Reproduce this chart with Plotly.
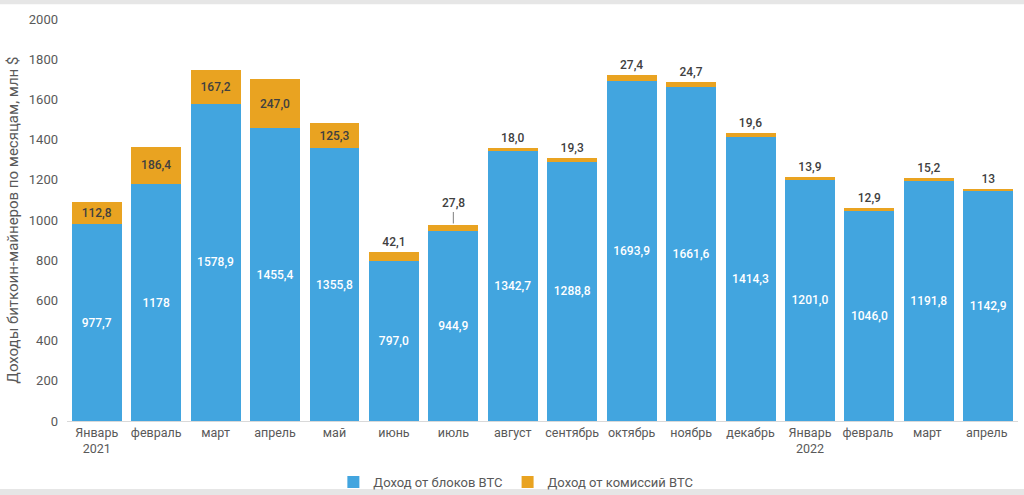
import plotly.graph_objects as go

months = ["Январь<br>2021", "февраль", "март", "апрель", "май", "июнь", "июль", "август",
          "сентябрь", "октябрь", "ноябрь", "декабрь", "Январь<br>2022", "февраль ", "март ", "апрель "]
block_rev = [977.7, 1178, 1578.9, 1455.4, 1355.8, 797.0, 944.9, 1342.7,
             1288.8, 1693.9, 1661.6, 1414.3, 1201.0, 1046.0, 1191.8, 1142.9]
fee_rev = [112.8, 186.4, 167.2, 247.0, 125.3, 42.1, 27.8, 18.0,
           19.3, 27.4, 24.7, 19.6, 13.9, 12.9, 15.2, 13]
block_labels = ["977,7", "1178", "1578,9", "1455,4", "1355,8", "797,0", "944,9", "1342,7",
                "1288,8", "1693,9", "1661,6", "1414,3", "1201,0", "1046,0", "1191,8", "1142,9"]
fee_labels = ["112,8", "186,4", "167,2", "247,0", "125,3", "42,1", "27,8", "18,0",
              "19,3", "27,4", "24,7", "19,6", "13,9", "12,9", "15,2", "13"]

BLUE = "#42A5DF"
ORANGE = "#E9A321"
FONT = "Roboto"

fee_pos = ["inside" if v > 100 else "outside" for v in fee_rev]
fee_text = [t if m != "июль" else "" for t, m in zip(fee_labels, months)]

fig = go.Figure()
fig.add_trace(go.Bar(
    x=months, y=block_rev, name="Доход от блоков BTC", showlegend=False,
    marker=dict(color=BLUE, line=dict(width=0)),
    text=block_labels, textposition="inside", insidetextanchor="middle",
    textfont=dict(color="white", size=12, family=FONT, weight=500),
    textangle=0, cliponaxis=False,
))
fig.add_trace(go.Bar(
    x=months, y=fee_rev, name="Доход от комиссий BTC", showlegend=False,
    marker=dict(color=ORANGE, line=dict(width=0)),
    text=fee_text, textposition=fee_pos, insidetextanchor="middle",
    insidetextfont=dict(color="#404040", size=12, family=FONT, weight=500),
    outsidetextfont=dict(color="#404040", size=12, family=FONT, weight=500),
    textangle=0, cliponaxis=False,
))
# legend entries with small square markers
for name, col in [("Доход от блоков BTC", BLUE), ("Доход от комиссий BTC", ORANGE)]:
    fig.add_trace(go.Scatter(x=[None], y=[None], mode="markers", name=name,
                             marker=dict(symbol="square", size=7, color=col)))

# leader-line label for July
for m, b, f, t in zip(months, block_rev, fee_rev, fee_labels):
    if m == "июль":
        fig.add_annotation(x=m, y=b + f, text=t, showarrow=True, arrowhead=0,
                           arrowwidth=1, arrowcolor="#7f7f7f", ax=0, ay=-22,
                           standoff=2, font=dict(color="#404040", size=12, family=FONT, weight=500))

fig.update_layout(
    width=1024, height=495,
    margin=dict(l=67, r=6, t=19, b=74, autoexpand=False),
    barmode="stack", bargap=0.16,
    paper_bgcolor="white", plot_bgcolor="white",
    font=dict(family=FONT, color="#595959", size=12),
    showlegend=True,
    legend=dict(orientation="h", x=0.472, xanchor="center", y=-0.152, yanchor="middle",
                bgcolor="rgba(0,0,0,0)",
                font=dict(size=13, color="#595959", family=FONT), itemwidth=30,
                itemsizing="constant", traceorder="normal", tracegroupgap=0),
    xaxis=dict(showgrid=False, showline=True, linecolor="#d9d9d9", linewidth=1,
               ticks="", tickfont=dict(size=12.5, color="#595959"), automargin=False),
    yaxis=dict(range=[0, 2000], dtick=200, showgrid=False, zeroline=False,
               showline=False, ticks="", ticklabelstandoff=8, automargin=False,
               tickfont=dict(size=13, color="#595959"),
               title=dict(text="Доходы биткоин-майнеров по месяцам, млн $",
                          font=dict(size=15, color="#595959"), standoff=6)),
)

# light grey frame strips
fig.add_shape(type="rect", xref="paper", yref="paper", x0=-0.08, x1=1.01,
              y0=1.037, y1=1.05, fillcolor="#e6e6e6", line=dict(width=0), layer="below")
fig.add_shape(type="rect", xref="paper", yref="paper", x0=-0.08, x1=1.01,
              y0=-0.169, y1=-0.19, fillcolor="#e6e6e6", line=dict(width=0), layer="below")

fig.write_html("out.html", config={"displayModeBar": False},
               post_script="document.body.style.margin='0';")
